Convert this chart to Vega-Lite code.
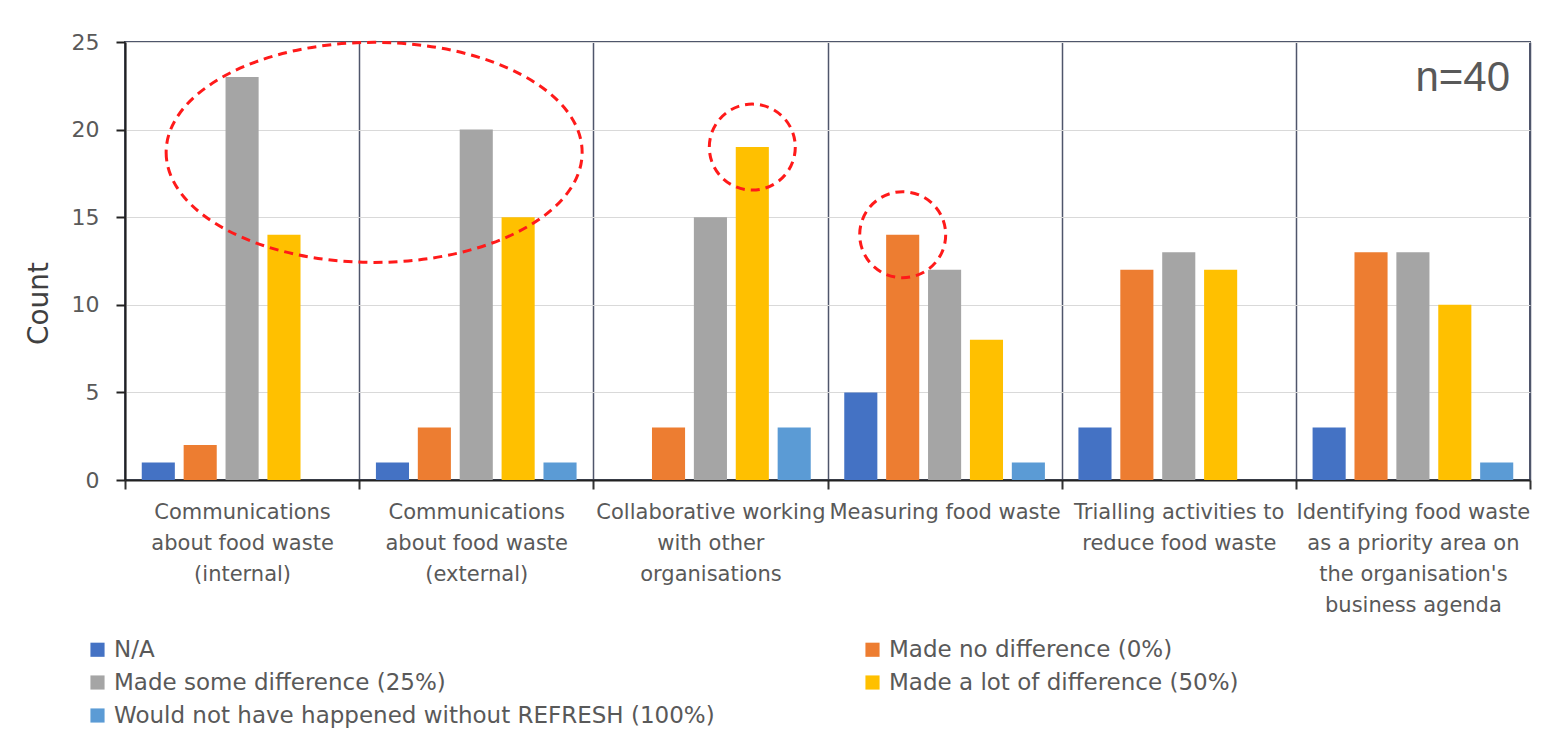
{
  "$schema": "https://vega.github.io/schema/vega-lite/v6.json",
  "width": 1405,
  "height": 438,
  "autosize": "none",
  "padding": {"left": 125, "top": 42, "right": 26, "bottom": 270},
  "background": "white",
  "config": {
    "view": {"stroke": "#4f566b", "strokeWidth": 2},
    "font": "DejaVu Sans"
  },
  "datasets": {
    "counts": [
      {"activity": "Communications about food waste (internal)", "response": "N/A", "count": 1},
      {"activity": "Communications about food waste (internal)", "response": "Made no difference (0%)", "count": 2},
      {"activity": "Communications about food waste (internal)", "response": "Made some difference (25%)", "count": 23},
      {"activity": "Communications about food waste (internal)", "response": "Made a lot of difference (50%)", "count": 14},
      {"activity": "Communications about food waste (internal)", "response": "Would not have happened without REFRESH (100%)", "count": 0},
      {"activity": "Communications about food waste (external)", "response": "N/A", "count": 1},
      {"activity": "Communications about food waste (external)", "response": "Made no difference (0%)", "count": 3},
      {"activity": "Communications about food waste (external)", "response": "Made some difference (25%)", "count": 20},
      {"activity": "Communications about food waste (external)", "response": "Made a lot of difference (50%)", "count": 15},
      {"activity": "Communications about food waste (external)", "response": "Would not have happened without REFRESH (100%)", "count": 1},
      {"activity": "Collaborative working with other organisations", "response": "N/A", "count": 0},
      {"activity": "Collaborative working with other organisations", "response": "Made no difference (0%)", "count": 3},
      {"activity": "Collaborative working with other organisations", "response": "Made some difference (25%)", "count": 15},
      {"activity": "Collaborative working with other organisations", "response": "Made a lot of difference (50%)", "count": 19},
      {"activity": "Collaborative working with other organisations", "response": "Would not have happened without REFRESH (100%)", "count": 3},
      {"activity": "Measuring food waste", "response": "N/A", "count": 5},
      {"activity": "Measuring food waste", "response": "Made no difference (0%)", "count": 14},
      {"activity": "Measuring food waste", "response": "Made some difference (25%)", "count": 12},
      {"activity": "Measuring food waste", "response": "Made a lot of difference (50%)", "count": 8},
      {"activity": "Measuring food waste", "response": "Would not have happened without REFRESH (100%)", "count": 1},
      {"activity": "Trialling activities to reduce food waste", "response": "N/A", "count": 3},
      {"activity": "Trialling activities to reduce food waste", "response": "Made no difference (0%)", "count": 12},
      {"activity": "Trialling activities to reduce food waste", "response": "Made some difference (25%)", "count": 13},
      {"activity": "Trialling activities to reduce food waste", "response": "Made a lot of difference (50%)", "count": 12},
      {"activity": "Trialling activities to reduce food waste", "response": "Would not have happened without REFRESH (100%)", "count": 0},
      {"activity": "Identifying food waste as a priority area on the organisation's business agenda", "response": "N/A", "count": 3},
      {"activity": "Identifying food waste as a priority area on the organisation's business agenda", "response": "Made no difference (0%)", "count": 13},
      {"activity": "Identifying food waste as a priority area on the organisation's business agenda", "response": "Made some difference (25%)", "count": 13},
      {"activity": "Identifying food waste as a priority area on the organisation's business agenda", "response": "Made a lot of difference (50%)", "count": 10},
      {"activity": "Identifying food waste as a priority area on the organisation's business agenda", "response": "Would not have happened without REFRESH (100%)", "count": 1}
    ],
    "highlights": [
      {"activity": "Collaborative working with other organisations", "response": "Made a lot of difference (50%)", "count": 19},
      {"activity": "Measuring food waste", "response": "Made no difference (0%)", "count": 14}
    ],
    "groupHighlight": [
      {"activity": "Communications about food waste (external)", "count": 18.7}
    ],
    "note": [
      {"activity": "Identifying food waste as a priority area on the organisation's business agenda", "count": 22.2, "label": "n=40"}
    ]
  },
  "layer": [
    {
      "data": {"name": "counts"},
      "mark": {"type": "bar"},
      "encoding": {
        "x": {
          "field": "activity", "type": "nominal",
          "scale": {"domain": ["Communications about food waste (internal)", "Communications about food waste (external)", "Collaborative working with other organisations", "Measuring food waste", "Trialling activities to reduce food waste", "Identifying food waste as a priority area on the organisation's business agenda"], "paddingInner": 0, "paddingOuter": 0},
          "axis": {
            "title": null,
            "labelAngle": 0,
            "labelBaseline": "top",
            "labelAlign": "center",
            "labelFontSize": 21,
            "labelColor": "#595959",
            "labelLineHeight": 31,
            "labelPadding": 12,
            "labelLimit": 0,
            "tickBand": "extent",
            "tickSize": 9,
            "tickColor": "#333333",
            "tickWidth": 2,
            "domainColor": "#222222",
            "domainWidth": 2,
            "grid": true,
            "gridColor": "#4f566b",
            "gridWidth": 1.5,
            "labelExpr": "datum.extra ? '' : datum.value == 'Communications about food waste (internal)' ? ['Communications', 'about food waste', '(internal)'] : datum.value == 'Communications about food waste (external)' ? ['Communications', 'about food waste', '(external)'] : datum.value == 'Collaborative working with other organisations' ? ['Collaborative working', 'with other', 'organisations'] : datum.value == 'Measuring food waste' ? ['Measuring food waste'] : datum.value == 'Trialling activities to reduce food waste' ? ['Trialling activities to', 'reduce food waste'] : ['Identifying food waste', 'as a priority area on', \"the organisation's\", 'business agenda']"
          }
        },
        "xOffset": {
          "field": "response", "type": "nominal",
          "scale": {"domain": ["N/A", "Made no difference (0%)", "Made some difference (25%)", "Made a lot of difference (50%)", "Would not have happened without REFRESH (100%)"], "paddingInner": 0.21, "paddingOuter": 0.4}
        },
        "y": {
          "field": "count", "type": "quantitative",
          "scale": {"domain": [0, 25], "nice": false},
          "axis": {
            "title": "Count",
            "titleFontSize": 28,
            "titleFontWeight": "normal",
            "titleColor": "#404040",
            "titlePadding": 18,
            "titleY": 261,
            "values": [0, 5, 10, 15, 20, 25],
            "labelFontSize": 22,
            "labelColor": "#595959",
            "labelPadding": 17,
            "tickSize": 9,
            "tickColor": "#222222",
            "tickWidth": 2,
            "domainColor": "#222222",
            "domainWidth": 2,
            "grid": true,
            "gridColor": "#d9d9d9",
            "gridWidth": 1
          }
        },
        "color": {
          "field": "response", "type": "nominal",
          "scale": {
            "domain": ["N/A", "Made no difference (0%)", "Made some difference (25%)", "Made a lot of difference (50%)", "Would not have happened without REFRESH (100%)"],
            "range": ["#4472C4", "#ED7D31", "#A5A5A5", "#FFC000", "#5B9BD5"]
          },
          "legend": {
            "title": null,
            "orient": "none",
            "legendX": -39,
            "legendY": 596,
            "columns": 2,
            "direction": "horizontal",
            "columnPadding": 146,
            "rowPadding": 9,
            "symbolType": "square",
            "symbolSize": 200,
            "symbolStrokeWidth": 0,
            "symbolOffset": 0,
            "labelFontSize": 23,
            "labelColor": "#595959",
            "labelLimit": 0,
            "labelOffset": 5
          }
        }
      }
    },
    {
      "data": {"name": "highlights"},
      "mark": {"type": "point", "shape": "circle", "size": 7396, "filled": false, "stroke": "#ff1a1a", "strokeWidth": 3, "strokeDash": [9, 6], "opacity": 1},
      "encoding": {
        "x": {"field": "activity", "type": "nominal"},
        "xOffset": {"field": "response", "type": "nominal"},
        "y": {"field": "count", "type": "quantitative"}
      }
    },
    {
      "data": {"name": "groupHighlight"},
      "mark": {"type": "point", "shape": "M-0.928,0A1,0.529,0,1,0,1.072,0A1,0.529,0,1,0,-0.928,0Z", "size": 173056, "filled": false, "stroke": "#ff1a1a", "strokeWidth": 3, "strokeDash": [9, 6], "opacity": 1},
      "encoding": {
        "x": {"field": "activity", "type": "nominal", "bandPosition": 0},
        "y": {"field": "count", "type": "quantitative"}
      }
    },
    {
      "data": {"name": "note"},
      "mark": {"type": "text", "align": "right", "baseline": "alphabetic", "font": "Liberation Sans", "fontSize": 42, "color": "#595959", "dx": -20},
      "encoding": {
        "x": {"field": "activity", "type": "nominal", "bandPosition": 1},
        "y": {"field": "count", "type": "quantitative"},
        "text": {"field": "label"}
      }
    }
  ]
}
